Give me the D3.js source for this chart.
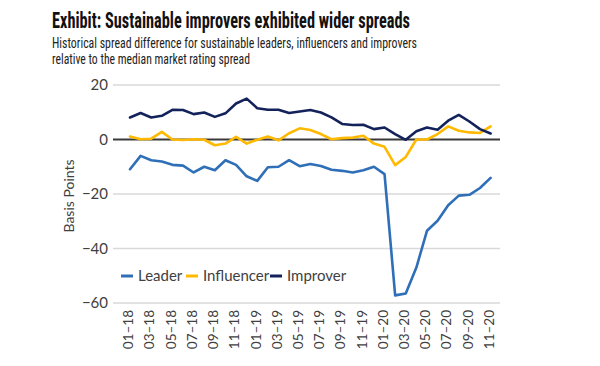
<!DOCTYPE html>
<html><head><meta charset="utf-8">
<script src="https://cdn.jsdelivr.net/npm/d3@7"></script>
<style>
body{margin:0;background:#fff;}
svg{display:block;}
</style></head>
<body>
<svg id="c" width="600" height="366"></svg>
<script>
const months = ["01–18","02–18","03–18","04–18","05–18","06–18","07–18","08–18","09–18","10–18","11–18","12–18",
"01–19","02–19","03–19","04–19","05–19","06–19","07–19","08–19","09–19","10–19","11–19","12–19",
"01–20","02–20","03–20","04–20","05–20","06–20","07–20","08–20","09–20","10–20","11–20"];
const leader = [-10.9,-6.0,-7.6,-8.1,-9.3,-9.6,-12.1,-10.0,-11.3,-7.6,-9.3,-13.5,
-15.2,-10.2,-10.0,-7.6,-9.8,-9.0,-9.7,-11.1,-11.5,-12.1,-11.3,-10.0,
-12.7,-57.2,-56.5,-47.0,-33.5,-29.8,-24.1,-20.6,-20.3,-17.8,-14.1];
const influencer = [1.1,0.1,0.3,2.8,0.0,-0.2,0.1,-0.1,-2.1,-1.5,1.0,-1.5,
-0.1,1.1,-0.3,2.3,4.1,3.5,2.0,0.1,0.5,0.7,1.4,-1.5,
-2.7,-9.4,-6.4,0.0,0.0,2.0,4.8,3.2,2.6,2.4,4.8];
const improver = [8.1,9.7,8.1,8.7,10.9,10.8,9.3,9.9,8.3,9.6,13.2,15.0,
11.5,10.9,10.9,9.7,10.3,10.8,9.9,8.1,5.7,5.3,5.4,3.8,
4.4,2.0,-0.1,3.0,4.4,3.6,6.9,9.0,6.6,3.8,2.2];
const yTicks = [20,0,-20,-40,-60];
const xTickLabels = months.filter((m,i)=>i%2===0);
const seriesNames = ["Leader","Influencer","Improver"];
const seriesColors = ["#2f6fb7","#ffb900","#13225a"];
const title = "Exhibit: Sustainable improvers exhibited wider spreads";
const subtitle = ["Historical spread difference for sustainable leaders, influencers and improvers",
"relative to the median market rating spread"];
const yTitle = "Basis Points";

const series = [leader, influencer, improver];
const svg = d3.select("#c");
const FONT = "Lato, 'Open Sans', sans-serif";
const NARROW = "'Liberation Sans Narrow','Roboto Condensed','Arial Narrow',Roboto,sans-serif";

// titles
svg.append("text").attr("x",52).attr("y",28).text(title)
  .attr("font-family",NARROW).attr("font-weight","bold").attr("font-size",21.5)
  .attr("fill","#111").attr("textLength",358).attr("lengthAdjust","spacingAndGlyphs");
svg.append("text").attr("x",52).attr("y",47.5).text(subtitle[0])
  .attr("font-family",NARROW).attr("font-size",15)
  .attr("fill","#222").attr("textLength",365).attr("lengthAdjust","spacingAndGlyphs");
svg.append("text").attr("x",52).attr("y",64).text(subtitle[1])
  .attr("font-family",NARROW).attr("font-size",15)
  .attr("fill","#222").attr("textLength",198).attr("lengthAdjust","spacingAndGlyphs");

const x = d3.scalePoint().domain(months).range([130,490.6]);
const y = d3.scaleLinear().domain([-60,20]).range([303,85]);
const gridX0 = 113, gridX1 = 500;

// gridlines
svg.append("g").selectAll("line").data(yTicks.filter(d=>d!==0)).join("line")
  .attr("x1",gridX0).attr("x2",gridX1).attr("y1",d=>y(d)).attr("y2",d=>y(d))
  .attr("stroke","#d9d9d9").attr("stroke-width",1.5);

// y axis labels
const yAxis = d3.axisLeft(y).tickValues(yTicks).tickSize(0).tickPadding(5)
  .tickFormat(d=> d<0 ? "−"+Math.abs(d) : String(d));
const gy = svg.append("g").attr("transform",`translate(${gridX0},0)`).call(yAxis);
gy.select(".domain").remove();
gy.selectAll("text").attr("font-family",FONT).attr("font-size",15).attr("fill","#404040");

// x axis labels
const xAxis = d3.axisBottom(x).tickValues(xTickLabels).tickSize(0);
const gx = svg.append("g").attr("transform",`translate(0,${y(-60)})`).call(xAxis);
gx.select(".domain").remove();
gx.selectAll("text").attr("font-family",FONT).attr("font-size",13.5).attr("fill","#404040")
  .attr("transform","rotate(-90)").attr("text-anchor","end")
  .attr("x",-7).attr("y",-2).attr("dy","0.35em");

// y title
svg.append("text").attr("transform","translate(74,196) rotate(-90)")
  .attr("text-anchor","middle").text(yTitle)
  .attr("font-family",FONT).attr("font-size",14).attr("fill","#404040");

// zero line
svg.append("line").attr("x1",gridX0).attr("x2",gridX1).attr("y1",y(0)).attr("y2",y(0))
  .attr("stroke","#3a3a3a").attr("stroke-width",2);

// lines
const line = d3.line().x((d,i)=>x(months[i])).y(d=>y(d));
series.forEach((s,k)=>{
  svg.append("path").datum(s).attr("d",line).attr("fill","none")
    .attr("stroke",seriesColors[k]).attr("stroke-width",2.6)
    .attr("stroke-linejoin","round").attr("stroke-linecap","round");
});

// legend
const legX = [121,186,270];
const lg = svg.append("g");
seriesNames.forEach((n,k)=>{
  lg.append("line").attr("x1",legX[k]).attr("x2",legX[k]+12).attr("y1",276).attr("y2",276)
    .attr("stroke",seriesColors[k]).attr("stroke-width",3);
  lg.append("text").attr("x",legX[k]+17).attr("y",276).attr("dy","0.35em").text(n)
    .attr("font-family",FONT).attr("font-size",15).attr("fill","#404040");
});
</script>
</body></html>
